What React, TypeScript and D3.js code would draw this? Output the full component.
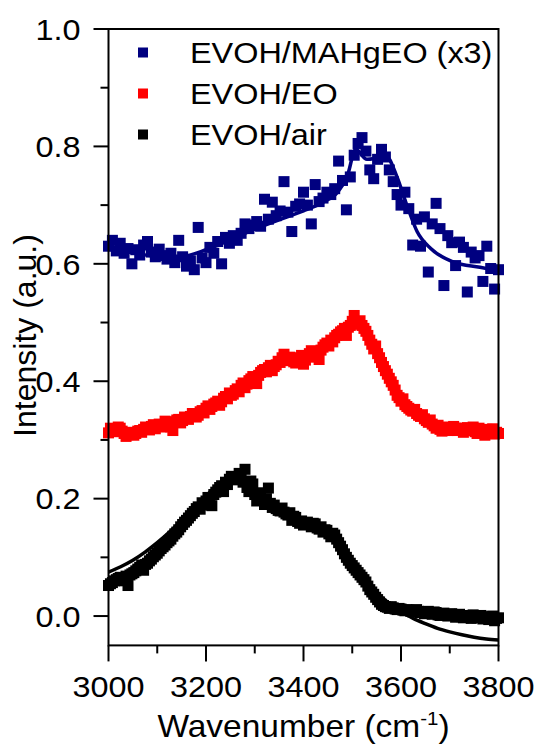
import React from 'react';
import * as d3 from 'd3';

// Wavenumber grids of the measured spectra (cm-1)
const WAVENUMBERS: number[] = d3.range(3000, 3801, 4);
const WAVENUMBERS_MAHGEO: number[] = d3.range(3000, 3801, 8);

// EVOH/MAHgEO (x3) — blue
const MAHGEO: number[] = [
  0.630, 0.640, 0.622, 0.635, 0.618, 0.626, 0.600, 0.624, 0.615, 0.632,
  0.638, 0.620, 0.612, 0.625, 0.614, 0.608, 0.618, 0.602, 0.640, 0.612,
  0.596, 0.605, 0.590, 0.662, 0.610, 0.602, 0.628, 0.618, 0.638, 0.600,
  0.645, 0.635, 0.648, 0.640, 0.652, 0.668, 0.660, 0.666, 0.672, 0.664,
  0.710, 0.676, 0.705, 0.682, 0.690, 0.740, 0.688, 0.655, 0.698, 0.702,
  0.722, 0.700, 0.668, 0.735, 0.706, 0.712, 0.722, 0.718, 0.728, 0.775,
  0.742, 0.692, 0.748, 0.785, 0.805, 0.815, 0.792, 0.760, 0.745, 0.778,
  0.795, 0.782, 0.760, 0.740, 0.718, 0.700, 0.722, 0.694, 0.632, 0.676,
  0.630, 0.680, 0.586, 0.668, 0.703, 0.660, 0.563, 0.648, 0.636, 0.597,
  0.637, 0.628, 0.552, 0.620, 0.610, 0.614, 0.570, 0.630, 0.592, 0.557,
  0.590,
];

// EVOH/EO — red
const EO: number[] = [
  0.312, 0.320, 0.318, 0.314, 0.316, 0.322, 0.320, 0.315, 0.311, 0.306, 0.309, 0.313, 0.312, 0.308, 0.311, 0.315, 0.316, 0.313, 0.318, 0.322,
  0.321, 0.317, 0.323, 0.326, 0.319, 0.324, 0.327, 0.322, 0.326, 0.332, 0.330, 0.327, 0.322, 0.316, 0.331, 0.334, 0.335, 0.329, 0.333, 0.339,
  0.338, 0.335, 0.340, 0.345, 0.344, 0.339, 0.342, 0.348, 0.350, 0.346, 0.354, 0.358, 0.352, 0.357, 0.361, 0.363, 0.366, 0.359, 0.365, 0.371,
  0.374, 0.370, 0.380, 0.376, 0.378, 0.384, 0.387, 0.382, 0.393, 0.397, 0.389, 0.395, 0.401, 0.404, 0.408, 0.400, 0.396, 0.410, 0.415, 0.418,
  0.420, 0.416, 0.423, 0.427, 0.418, 0.425, 0.428, 0.434, 0.432, 0.440, 0.446, 0.438, 0.435, 0.441, 0.438, 0.433, 0.431, 0.437, 0.440, 0.444,
  0.429, 0.436, 0.442, 0.447, 0.452, 0.441, 0.445, 0.450, 0.437, 0.453, 0.458, 0.462, 0.465, 0.460, 0.470, 0.467, 0.474, 0.478, 0.480, 0.484,
  0.486, 0.490, 0.478, 0.492, 0.495, 0.502, 0.512, 0.500, 0.497, 0.503, 0.495, 0.490, 0.485, 0.478, 0.470, 0.463, 0.455, 0.460, 0.447, 0.440,
  0.432, 0.425, 0.418, 0.412, 0.405, 0.399, 0.393, 0.385, 0.376, 0.372, 0.366, 0.370, 0.360, 0.357, 0.354, 0.351, 0.349, 0.352, 0.345, 0.342,
  0.340, 0.343, 0.336, 0.333, 0.330, 0.334, 0.327, 0.324, 0.320, 0.325, 0.318, 0.315, 0.322, 0.319, 0.316, 0.321, 0.319, 0.323, 0.320, 0.316,
  0.317, 0.320, 0.313, 0.318, 0.321, 0.316, 0.318, 0.322, 0.314, 0.311, 0.320, 0.317, 0.312, 0.308, 0.318, 0.314, 0.315, 0.319, 0.310, 0.313,
  0.311,
];

// EVOH/air — black
const AIR: number[] = [
  0.052, 0.055, 0.057, 0.060, 0.062, 0.064, 0.066, 0.062, 0.060, 0.068, 0.052, 0.070, 0.072, 0.074, 0.077, 0.080, 0.083, 0.087, 0.078, 0.088,
  0.090, 0.094, 0.097, 0.101, 0.104, 0.107, 0.111, 0.115, 0.118, 0.121, 0.125, 0.128, 0.131, 0.136, 0.140, 0.143, 0.147, 0.152, 0.156, 0.160,
  0.163, 0.167, 0.171, 0.175, 0.178, 0.183, 0.186, 0.182, 0.193, 0.189, 0.196, 0.202, 0.202, 0.188, 0.207, 0.211, 0.215, 0.219, 0.222, 0.212,
  0.228, 0.224, 0.233, 0.238, 0.237, 0.234, 0.232, 0.243, 0.240, 0.228, 0.250, 0.219, 0.212, 0.230, 0.225, 0.207, 0.196, 0.210, 0.203, 0.198,
  0.190, 0.200, 0.218, 0.192, 0.185, 0.189, 0.183, 0.180, 0.179, 0.184, 0.177, 0.174, 0.172, 0.176, 0.163, 0.170, 0.168, 0.161, 0.158, 0.162,
  0.155, 0.159, 0.160, 0.156, 0.152, 0.158, 0.157, 0.150, 0.148, 0.152, 0.143, 0.147, 0.146, 0.140, 0.135, 0.141, 0.138, 0.131, 0.125, 0.119,
  0.113, 0.106, 0.100, 0.095, 0.090, 0.086, 0.082, 0.078, 0.074, 0.070, 0.066, 0.062, 0.058, 0.051, 0.045, 0.041, 0.037, 0.032, 0.028, 0.024,
  0.020, 0.018, 0.016, 0.015, 0.013, 0.016, 0.014, 0.012, 0.011, 0.013, 0.012, 0.010, 0.009, 0.011, 0.010, 0.008, 0.007, 0.009, 0.011, 0.008,
  0.006, 0.007, 0.004, 0.006, 0.008, 0.005, 0.003, 0.007, 0.006, 0.002, 0.001, 0.004, 0.005, 0.002, 0.000, 0.003, 0.004, 0.001, -0.002, 0.002,
  0.003, -0.001, -0.003, 0.000, 0.001, -0.002, -0.004, 0.002, 0.000, -0.003, -0.002, 0.001, -0.005, -0.002, -0.001, -0.006, -0.004, 0.000, -0.008, -0.004,
  -0.003,
];

// Fitted curves
const FIT_MAHGEO_X: number[] = [3000, 3050, 3100, 3150, 3200, 3250, 3300, 3350, 3400, 3440, 3470, 3490, 3507, 3530, 3550, 3570, 3590, 3612, 3633, 3661, 3708, 3762, 3800];
const FIT_MAHGEO_Y: number[] = [0.625, 0.619, 0.613, 0.613, 0.624, 0.641, 0.659, 0.675, 0.690, 0.705, 0.722, 0.750, 0.795, 0.778, 0.780, 0.783, 0.752, 0.700, 0.655, 0.626, 0.603, 0.594, 0.588];

const FIT_AIR_X: number[] = [3000, 3025, 3050, 3075, 3100, 3125, 3150, 3175, 3200, 3225, 3250, 3275, 3300, 3325, 3350, 3375, 3400, 3425, 3450, 3475, 3500, 3525, 3550, 3575, 3600, 3625, 3650, 3675, 3700, 3725, 3750, 3775, 3800];
const FIT_AIR_Y: number[] = [0.075, 0.084, 0.095, 0.109, 0.125, 0.143, 0.163, 0.185, 0.205, 0.223, 0.236, 0.232, 0.215, 0.197, 0.182, 0.170, 0.160, 0.152, 0.140, 0.120, 0.092, 0.064, 0.040, 0.022, 0.008, -0.004, -0.013, -0.021, -0.027, -0.032, -0.036, -0.039, -0.041];

const X_TICKS: number[] = [3000, 3200, 3400, 3600, 3800];
const X_MINOR: number[] = [3100, 3300, 3500, 3700];
const Y_TICKS: number[] = [0, 0.2, 0.4, 0.6, 0.8, 1.0];
const Y_MINOR: number[] = [0.1, 0.3, 0.5, 0.7, 0.9];

const LEGEND_LABELS: string[] = ['EVOH/MAHgEO (x3)', 'EVOH/EO', 'EVOH/air'];
const COLORS: string[] = ['#000080', '#ff0000', '#000000'];

const FONT = '"Liberation Sans", Arial, sans-serif';
const SX = 1.08;

export default function App() {
  const x = d3.scaleLinear().domain([3000, 3800]).range([108.5, 498.5]);
  const y = d3.scaleLinear().domain([-0.05, 1.0]).range([645.4, 29]);

  const series: { xs: number[]; ys: number[] }[] = [
    { xs: WAVENUMBERS_MAHGEO, ys: MAHGEO },
    { xs: WAVENUMBERS, ys: EO },
    { xs: WAVENUMBERS, ys: AIR },
  ];
  const line = d3
    .line<[number, number]>()
    .x((d) => x(d[0]))
    .y((d) => y(d[1]))
    .curve(d3.curveMonotoneX);

  const fitBlue = line(FIT_MAHGEO_X.map((v, i) => [v, FIT_MAHGEO_Y[i]] as [number, number])) || '';
  const fitBlack = line(FIT_AIR_X.map((v, i) => [v, FIT_AIR_Y[i]] as [number, number])) || '';

  const x0 = x(3000);
  const x1 = x(3800);
  const yTop = y(1.0);
  const yBot = y(-0.05);
  const ms = 11;

  return (
    <svg
      width={540}
      height={744}
      style={{ position: 'absolute', left: 0, top: 0, background: '#fff' }}
      fontFamily={FONT}
    >
      <rect x={0} y={0} width={540} height={744} fill="#fff" />

      {/* data markers */}
      {series.map((s, si) => (
        <g key={si} fill={COLORS[si]}>
          {s.ys.map((v, i) => (
            <rect
              key={i}
              x={x(s.xs[i]) - ms / 2}
              y={y(v) - ms / 2}
              width={ms}
              height={ms}
            />
          ))}
        </g>
      ))}

      {/* fits */}
      <path d={fitBlue} fill="none" stroke={COLORS[0]} strokeWidth={3.5} />
      <path d={fitBlack} fill="none" stroke={COLORS[2]} strokeWidth={3.5} />

      {/* frame */}
      <rect x={x0} y={yTop} width={x1 - x0} height={yBot - yTop} fill="none" stroke="#000" strokeWidth={2} />

      {/* y ticks */}
      {Y_TICKS.map((t) => (
        <g key={'yt' + t}>
          <line x1={x0 - 15} x2={x0} y1={y(t)} y2={y(t)} stroke="#000" strokeWidth={2} />
          <text
            transform={`translate(${x0 - 28}, ${y(t)}) scale(${SX}, 1)`}
            dy="0.36em"
            textAnchor="end"
            fontSize={30}
          >
            {t.toFixed(1)}
          </text>
        </g>
      ))}
      {Y_MINOR.map((t) => (
        <line key={'ym' + t} x1={x0 - 8} x2={x0} y1={y(t)} y2={y(t)} stroke="#000" strokeWidth={2} />
      ))}

      {/* x ticks */}
      {X_TICKS.map((t) => (
        <g key={'xt' + t}>
          <line x1={x(t)} x2={x(t)} y1={yBot} y2={yBot + 16} stroke="#000" strokeWidth={2} />
          <text
            transform={`translate(${x(t)}, ${yBot + 52}) scale(${SX}, 1)`}
            textAnchor="middle"
            fontSize={30}
          >
            {t}
          </text>
        </g>
      ))}
      {X_MINOR.map((t) => (
        <line key={'xm' + t} x1={x(t)} x2={x(t)} y1={yBot} y2={yBot + 8} stroke="#000" strokeWidth={2} />
      ))}

      {/* axis titles */}
      <text
        transform={`translate(${(x0 + x1) / 2}, 737) scale(${SX}, 1)`}
        textAnchor="middle"
        fontSize={31}
      >
        Wavenumber (cm
        <tspan dy={-12} fontSize={19}>-1</tspan>
        <tspan dy={12}>)</tspan>
      </text>
      <text
        transform={`translate(36, ${(438 + 233) / 2}) rotate(-90)`}
        textAnchor="middle"
        fontSize={32}
      >
        Intensity (a.u.)
      </text>

      {/* legend */}
      {LEGEND_LABELS.map((lab, i) => (
        <g key={lab}>
          <rect x={138} y={47.5 + i * 41} width={10} height={10} fill={COLORS[i]} />
          <text transform={`translate(190, ${63 + i * 41}) scale(${SX}, 1)`} fontSize={30}>
            {lab}
          </text>
        </g>
      ))}
    </svg>
  );
}
